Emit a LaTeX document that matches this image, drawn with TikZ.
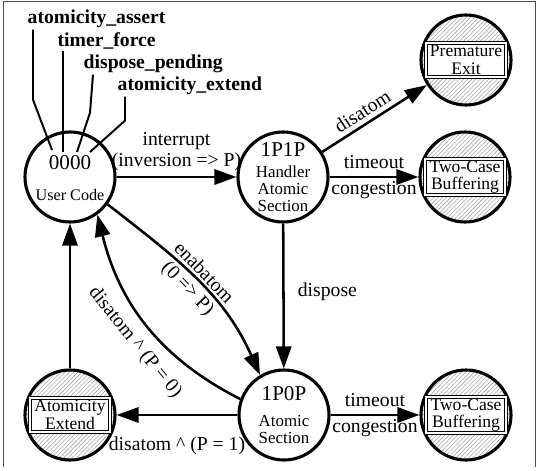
\documentclass[tikz,border=0pt]{standalone}
\usepackage{fontspec}
\setmainfont{Liberation Serif}
\usetikzlibrary{arrows.meta,patterns}

\tikzset{
  state/.style={circle,draw,line width=2.2pt,minimum size=22.5mm,inner sep=0pt,align=center,font=\fontsize{12}{12}\selectfont},
  sink/.style={state,pattern=north east lines,pattern color=black!35},
  sinkbox/.style={draw,double,double distance=1.1pt,line width=0.7pt,fill=white,inner sep=1pt,minimum width=20mm,minimum height=8.6mm,align=center,font=\fontsize{12.5}{12.5}\selectfont},
  trans/.style={line width=1.8pt,-{Triangle[length=5.5mm,width=3.8mm]}},
  wire/.style={line width=1.4pt},
  lbl/.style={font=\fontsize{14}{15}\selectfont},
  signal/.style={anchor=west,inner sep=1pt,font=\bfseries\fontsize{14}{14}\selectfont}
}

\begin{document}
\begin{tikzpicture}[x=0.25mm,y=-0.25mm]
\useasboundingbox (0,0) rectangle (540,471);
\draw[line width=0.6pt,black!70] (3,467) -- (3,1) -- (535,1) -- (535,467);

% states
\node[state] (user) at (70,177) {};
\node[font=\fontsize{15}{15}\selectfont] (bits) at (70,163) {0000};
\node[font=\fontsize{11.5}{12}\selectfont] (ucode) at (70,195) {User Code};
\node[state] (handler) at (283,177) {{\fontsize{15}{15}\selectfont 1P1P}\\[3.5pt]Handler\\Atomic\\Section};
\node[state] (atomic) at (284,415) {{\fontsize{15}{15}\selectfont 1P0P}\\[7pt]Atomic\\Section};

% hatched end states
\node[sink] (pexit) at (466,60) {};
\node[sinkbox] (pexitbox) at (pexit) {Premature\\Exit};
\node[sink] (buf1) at (465,177) {};
\node[sinkbox] (buf1box) at (buf1) {Two-Case\\Buffering};
\node[sink] (buf2) at (466,415) {};
\node[sinkbox] (buf2box) at (buf2) {Two-Case\\Buffering};
\node[sink] (extend) at (70,415) {};
\node[sinkbox] (extendbox) at (extend) {Atomicity\\Extend};

% flag bits
\node[signal] (sassert) at (26,19) {atomicity\_assert};
\node[signal] (sforce) at (56,41) {timer\_force};
\node[signal] (spend) at (82,64) {dispose\_pending};
\node[signal] (sext) at (116,86) {atomicity\_extend};
\coordinate (bit1) at (52,150);
\coordinate (bit2) at (63,152);
\coordinate (bit3) at (77,152);
\coordinate (bit4) at (90,152);
\draw[wire] (sassert.south west) ++(7,0) -- ++(0,70) -- (bit1);
\draw[wire] (sforce.south west) ++(7,0) -- (bit2);
\draw[wire] (spend.south west) ++(11,0) -- ++(-3,38) -- (bit3);
\draw[wire] (sext.south west) ++(9,0) -- ++(0,24) -- (bit4);

% transitions
\draw[trans] (user) -- node[lbl,above,align=center] {interrupt\\(inversion => P)} (handler);
\draw[trans] (handler) -- node[lbl,above,sloped,pos=0.45] {disatom} (pexit);
\draw[trans] (handler) -- node[lbl,align=center] {timeout\\[3pt]congestion} (buf1);
\draw[trans] (handler) -- node[lbl,right=6pt,pos=0.47] {dispose} (atomic);
\draw[trans] (user.-36) to[out=-38,in=114]
  node[lbl,sloped,above,inner sep=2pt] {enabatom}
  node[lbl,sloped,below,inner sep=2pt] {(0 => P)} (atomic.121);
\draw[trans] (atomic.160) to[out=153,in=-76] node[lbl,sloped,below=4pt,pos=0.47] {disatom \textasciicircum{} (P = 0)} (user.-54);
\draw[trans] (atomic) -- node[lbl,below=11pt] {disatom \textasciicircum{} (P = 1)} (extend);
\draw[trans] (atomic) -- node[lbl,align=center] {timeout\\[3pt]congestion} (buf2);
\draw[trans] (extend) -- (user);
\end{tikzpicture}
\end{document}
